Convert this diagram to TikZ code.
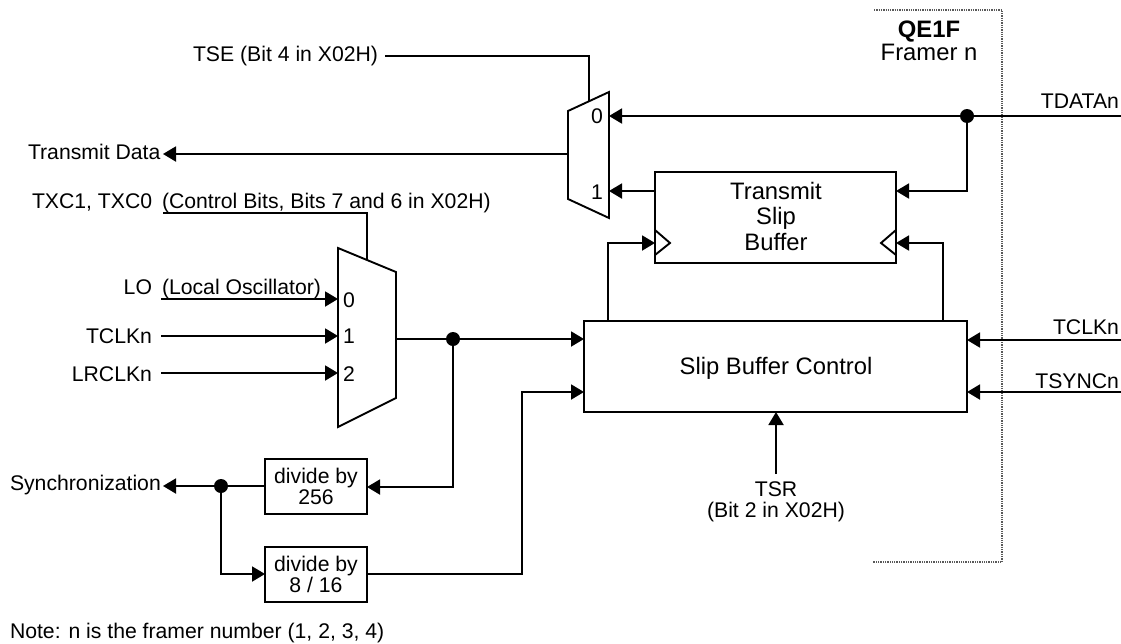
\documentclass[tikz,border=0pt]{standalone}
\usepackage{fontspec}
\setmainfont{Liberation Sans}
\usetikzlibrary{arrows.meta}
\tikzset{
  txt/.style={font=\fontsize{21.2}{25}\selectfont,inner sep=0pt,outer sep=0pt},
  bigtxt/.style={font=\fontsize{23.8}{28}\selectfont,inner sep=0pt,outer sep=0pt},
  wire/.style={line width=1.9pt},
  arrowwire/.style={wire,-{Triangle[length=13pt,width=15pt]}},
  blockbox/.style={draw,line width=1.9pt,inner sep=0pt,outer sep=0pt,anchor=north west},
  dotnode/.style={circle,fill=black,inner sep=0pt,minimum size=14pt},
  framerline/.style={line width=1.3pt,black!65,densely dotted},
}
\begin{document}
\begin{tikzpicture}[x=1pt,y=-1pt]
\useasboundingbox (0,0) rectangle (1121,643);
% frame
\coordinate (fa) at (874,10); \coordinate (fb) at (1002,10);
\coordinate (fc) at (1002,562); \coordinate (fd) at (873,562);
\draw[framerline] (fa) -- (fb) -- (fc) -- (fd);
\node[bigtxt,anchor=base] (qe) at (929,37) {\textbf{QE1F}};
\node[bigtxt,anchor=base] (fn) at (929,60) {Framer n};
% boxes
\node[blockbox,minimum width=241pt,minimum height=91pt] (tsb) at (655,172) {};
\node[blockbox,minimum width=383pt,minimum height=91pt] (sbc) at (584,321) {};
\node[blockbox,minimum width=102pt,minimum height=55pt] (d256) at (265,459) {};
\node[blockbox,minimum width=102pt,minimum height=55pt] (d816) at (265,547) {};
\node[bigtxt,anchor=base] (t1) at (776,199) {Transmit};
\node[bigtxt,anchor=base] (t2) at (776,224) {Slip};
\node[bigtxt,anchor=base] (t3) at (776,250) {Buffer};
\node[bigtxt,anchor=base] (t4) at (776,374) {Slip Buffer Control};
\node[txt,anchor=base] (t5) at (316,483) {divide by};
\node[txt,anchor=base] (t6) at (316,504) {256};
\node[txt,anchor=base] (t7) at (316,571) {divide by};
\node[txt,anchor=base] (t8) at (316,592) {8 / 16};
% clock triangles
\coordinate (cl1) at (655,230); \coordinate (cl2) at (670,243); \coordinate (cl3) at (655,255);
\coordinate (cr1) at (896,230); \coordinate (cr2) at (881,243); \coordinate (cr3) at (896,255);
\draw[wire] (cl1) -- (cl2) -- (cl3);
\draw[wire] (cr1) -- (cr2) -- (cr3);
% muxes
\coordinate (m1a) at (568,111); \coordinate (m1b) at (609,92);
\coordinate (m1c) at (609,218); \coordinate (m1d) at (568,199);
\draw[wire,line join=miter] (m1a) -- (m1b) -- (m1c) -- (m1d) -- cycle;
\coordinate (m2a) at (338,248); \coordinate (m2b) at (396,272);
\coordinate (m2c) at (396,398); \coordinate (m2d) at (338,427);
\draw[wire,line join=miter] (m2a) -- (m2b) -- (m2c) -- (m2d) -- cycle;
\node[txt,anchor=base] (m10) at (597,123) {0};
\node[txt,anchor=base] (m11) at (597,199) {1};
\node[txt,anchor=base] (m20) at (349,307) {0};
\node[txt,anchor=base] (m21) at (349,343) {1};
\node[txt,anchor=base] (m22) at (349,381) {2};
% labels
\node[txt,anchor=base east] (ltse) at (378,61) {TSE (Bit 4 in X02H)};
\node[txt,anchor=base west] (ltd) at (28,159) {Transmit Data};
\node[txt,anchor=base west] (ltxc) at (32,208) {TXC1, TXC0};
\node[txt,anchor=base west] (lctl) at (162,208) {(Control Bits, Bits 7 and 6 in X02H)};
\node[txt,anchor=base east] (llo) at (152,294) {LO};
\node[txt,anchor=base west] (lloc) at (162,294) {(Local Oscillator)};
\node[txt,anchor=base east] (ltc) at (152,343) {TCLKn};
\node[txt,anchor=base east] (llr) at (152,381) {LRCLKn};
\node[txt,anchor=base west] (lsy) at (10,490) {Synchronization};
\node[txt,anchor=base west] (lnote) at (10,638) {Note: n is the framer number (1, 2, 3, 4)};
\node[txt,anchor=base east] (rtd) at (1119,108) {TDATAn};
\node[txt,anchor=base east] (rtc) at (1119,334) {TCLKn};
\node[txt,anchor=base east] (rts) at (1119,388) {TSYNCn};
\node[txt,anchor=base] (ltsr) at (776,496) {TSR};
\node[txt,anchor=base] (ltsb) at (776,517) {(Bit 2 in X02H)};
% junctions
\node[dotnode] (j1) at (967,116) {};
\node[dotnode] (j2) at (453,339) {};
\node[dotnode] (j3) at (221,486) {};
% connector ends
\coordinate (tseS) at (385,56);  \coordinate (tseB) at (589,56);  \coordinate (tseE) at (589,102);
\coordinate (m1out) at (568,154); \coordinate (tdTip) at (163,154);
\coordinate (rtdS) at (1121,116); \coordinate (m1i0) at (609,116);
\coordinate (m1i1) at (609,191);  \coordinate (tsbL) at (655,191);
\coordinate (tsbR) at (896,191);  \coordinate (j1b) at (967,191);
\coordinate (cS1) at (608,321); \coordinate (cB1) at (608,243); \coordinate (cE1) at (655,243);
\coordinate (cS2) at (943,321); \coordinate (cB2) at (943,243); \coordinate (cE2) at (896,243);
\coordinate (rtcS) at (1121,340); \coordinate (sbcR1) at (967,340);
\coordinate (rtsS) at (1121,392); \coordinate (sbcR2) at (967,392);
\coordinate (tsrS) at (776,474); \coordinate (sbcB) at (776,412);
\coordinate (sbcL1) at (584,339); \coordinate (m2out) at (396,339);
\coordinate (sbcL2) at (584,392); \coordinate (b2) at (522,392); \coordinate (d816o) at (522,574);
\coordinate (d816R) at (367,574); \coordinate (d816L) at (265,574);
\coordinate (txS) at (163,213); \coordinate (txB) at (367,213); \coordinate (txE) at (367,260);
\coordinate (loS) at (161,299); \coordinate (loE) at (338,299);
\coordinate (tcS) at (161,336); \coordinate (tcE) at (338,336);
\coordinate (lrS) at (161,373); \coordinate (lrE) at (338,373);
\coordinate (d256R) at (367,487); \coordinate (j2b) at (453,487);
\coordinate (d256L) at (265,486); \coordinate (syTip) at (163,486);
\coordinate (j3b) at (221,574);
% connectors
\draw[wire] (tseS) -- (tseB) -- (tseE);
\draw[arrowwire] (m1out) -- (tdTip);
\draw[arrowwire] (rtdS) -- (m1i0);
\draw[arrowwire] (tsbL) -- (m1i1);
\draw[arrowwire] (j1) -- (j1b) -- (tsbR);
\draw[arrowwire] (cS1) -- (cB1) -- (cE1);
\draw[arrowwire] (cS2) -- (cB2) -- (cE2);
\draw[arrowwire] (rtcS) -- (sbcR1);
\draw[arrowwire] (rtsS) -- (sbcR2);
\draw[arrowwire] (tsrS) -- (sbcB);
\draw[arrowwire] (m2out) -- (sbcL1);
\draw[arrowwire] (d816R) -- (d816o) -- (b2) -- (sbcL2);
\draw[wire] (txS) -- (txB) -- (txE);
\draw[arrowwire] (loS) -- (loE);
\draw[arrowwire] (tcS) -- (tcE);
\draw[arrowwire] (lrS) -- (lrE);
\draw[arrowwire] (j2) -- (j2b) -- (d256R);
\draw[arrowwire] (d256L) -- (syTip);
\draw[arrowwire] (j3) -- (j3b) -- (d816L);
\end{tikzpicture}
\end{document}
